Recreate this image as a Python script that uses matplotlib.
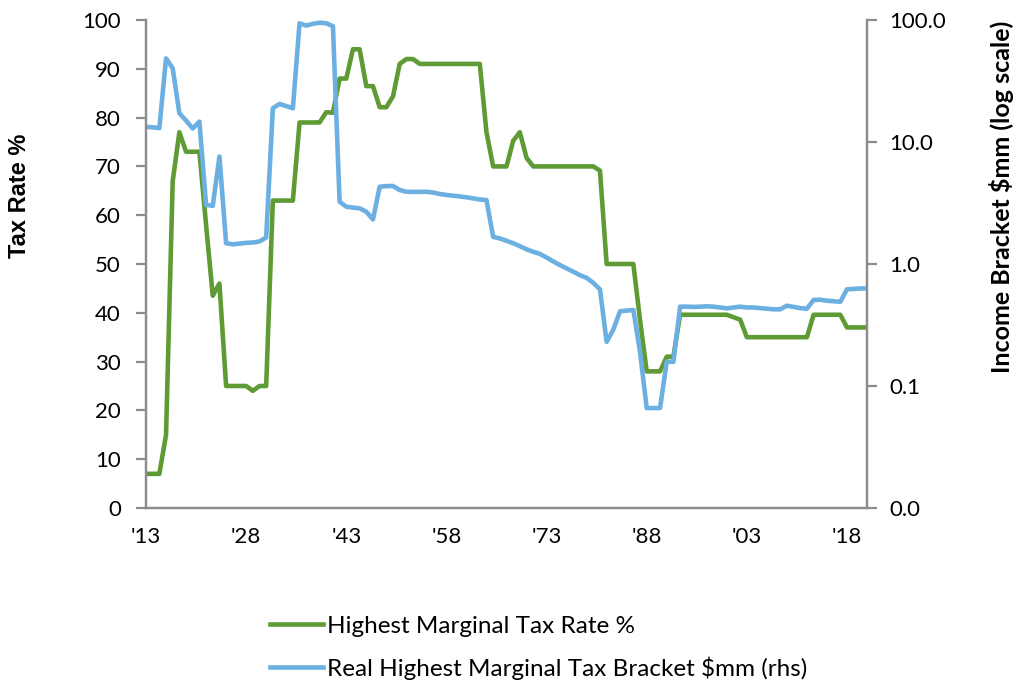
import matplotlib.pyplot as plt
from matplotlib.ticker import FixedLocator, NullLocator

# years 1913..2021
years = list(range(1913, 2022))

# Highest marginal tax rate, %
tax_rate = [
    7, 7, 7, 15, 67, 77, 73,                                   # 1913-1919
    73, 73, 58, 43.5, 46, 25, 25, 25, 25, 24,                  # 1920s
    25, 25, 63, 63, 63, 63, 79, 79, 79, 79,                    # 1930s
    81.1, 81, 88, 88, 94, 94, 86.45, 86.45, 82.13, 82.13,      # 1940s
    84.36, 91, 92, 92, 91, 91, 91, 91, 91, 91,                 # 1950s
    91, 91, 91, 91, 77, 70, 70, 70, 75.25, 77,                 # 1960s
    71.75, 70, 70, 70, 70, 70, 70, 70, 70, 70,                 # 1970s
    70, 69.13, 50, 50, 50, 50, 50, 38.5, 28, 28,               # 1980s
    28, 31, 31, 39.6, 39.6, 39.6, 39.6, 39.6, 39.6, 39.6,      # 1990s
    39.6, 39.1, 38.6, 35, 35, 35, 35, 35, 35, 35,              # 2000s
    35, 35, 35, 39.6, 39.6, 39.6, 39.6, 39.6, 37, 37,          # 2010s
    37, 37,                                                    # 2020-2021
]

# Real highest marginal tax bracket, $mm
bracket = [
    13.3, 13.2, 13.0, 48.5, 40.2, 17.2, 15.0,
    12.9, 14.7, 3.05, 3.0, 7.6, 1.48, 1.45, 1.47, 1.49, 1.50,
    1.53, 1.65, 18.9, 20.5, 19.7, 18.9, 94, 90, 93, 95,
    94, 89, 3.24, 2.95, 2.9, 2.86, 2.68, 2.32, 4.3, 4.35,
    4.36, 4.04, 3.91, 3.9, 3.9, 3.91, 3.85, 3.75, 3.68, 3.63,
    3.58, 3.52, 3.45, 3.38, 3.34, 1.67, 1.62, 1.55, 1.48, 1.40,
    1.32, 1.26, 1.21, 1.13, 1.05, 0.98, 0.92, 0.865, 0.81, 0.77,
    0.70, 0.62, 0.23, 0.29, 0.41, 0.415, 0.42, 0.19, 0.066, 0.066,
    0.066, 0.158, 0.158, 0.447, 0.447, 0.445, 0.447, 0.45, 0.447, 0.44,
    0.433, 0.44, 0.447, 0.44, 0.44, 0.435, 0.43, 0.425, 0.425, 0.455,
    0.445, 0.435, 0.43, 0.507, 0.51, 0.5, 0.495, 0.49, 0.62, 0.625,
    0.63, 0.63,
]

xticks = [1913, 1928, 1943, 1958, 1973, 1988, 2003, 2018]
xlabels = ["'13", "'28", "'43", "'58", "'73", "'88", "'03", "'18"]
rticks = [0.01, 0.1, 1, 10, 100]
rlabels = ['0.0', '0.1', '1.0', '10.0', '100.0']

green = '#5E9B34'
blue = '#6CB0E2'
grey = '#8C8C8C'

plt.rcParams['font.family'] = ['Lato', 'DejaVu Sans']

fig = plt.figure(figsize=(10.2, 6.86), dpi=100)
ax = fig.add_axes([146/1020, 1 - 508/686, (867-146)/1020, (508-20)/686])
ax2 = ax.twinx()

ln1, = ax.plot(years, tax_rate, color=green, lw=3.3, solid_joinstyle='round',
               label='Highest Marginal Tax Rate %')
ln2, = ax2.plot(years, bracket, color=blue, lw=3.3, solid_joinstyle='round',
                label='Real Highest Marginal Tax Bracket $mm (rhs)')

ax.set_xlim(1913, 2021)
ax.set_ylim(0, 100)
ax.set_yticks(range(0, 101, 10))
ax.set_xticks(xticks)
ax.set_xticklabels(xlabels)

ax2.set_yscale('log')
ax2.set_ylim(0.01, 100)
ax2.yaxis.set_major_locator(FixedLocator(rticks))
ax2.yaxis.set_minor_locator(NullLocator())
ax2.set_yticklabels(rlabels)

for a in (ax, ax2):
    a.spines['top'].set_visible(False)
    for s in ('left', 'right', 'bottom'):
        a.spines[s].set_color(grey)
        a.spines[s].set_linewidth(1.6)
ax.tick_params(axis='y', length=7, width=1.6, color=grey, labelsize=16, pad=11)
ax.tick_params(axis='x', length=0, labelsize=16, pad=14)
ax2.tick_params(axis='y', which='both', length=7, width=1.6, color=grey,
                labelsize=16, pad=9)

fig.text(20/1020, 1 - 196/686, 'Tax Rate %', rotation=90, fontsize=17,
         fontweight='bold', family='Liberation Sans', ha='center', va='center')
fig.text(1002/1020, 1 - 197/686, 'Income Bracket $mm (log scale)', rotation=90,
         fontsize=18, fontweight='bold', ha='center', va='center')

fig.legend(handles=[ln1, ln2], loc='upper left', bbox_to_anchor=(248/1020, 1 - 594/686),
           frameon=False, fontsize=17.5, handlelength=2.2, handletextpad=0.15,
           labelspacing=0.8)

fig.savefig('out.png', dpi=100)
